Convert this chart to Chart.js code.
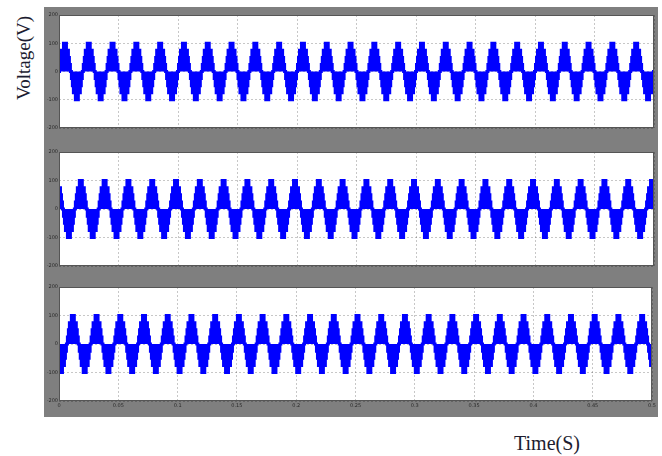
<!DOCTYPE html>
<html>
<head>
<meta charset="utf-8">
<script src="https://cdn.jsdelivr.net/npm/chart.js@4.4.1/dist/chart.umd.min.js"></script>
<style>
  html, body { margin: 0; padding: 0; background: #fff; }
  #wrap { position: relative; width: 662px; height: 456px; overflow: hidden; }
  #frame { position: absolute; left: 44px; top: 7px; width: 614px; height: 410px; background: #7f7f7f; }
  canvas { position: absolute; left: 44px; }
  .ylab {
    position: absolute; left: 24px; top: 58px;
    transform: translate(-50%, -50%) rotate(-90deg);
    font: 19px "Liberation Serif", serif; color: #1c1c30; white-space: nowrap;
  }
  .xlab {
    position: absolute; left: 547px; top: 443px;
    transform: translate(-50%, -50%);
    font: 20px "Liberation Serif", serif; color: #1c1c30; white-space: nowrap;
  }
</style>
</head>
<body>
<div id="wrap">
  <div id="frame"></div>
  <canvas id="c1" width="614" height="130" style="top:7px"></canvas>
  <canvas id="c2" width="614" height="130" style="top:144px"></canvas>
  <canvas id="c3" width="614" height="138" style="top:279px"></canvas>
  <div class="ylab">Voltage(V)</div>
  <div class="xlab">Time(S)</div>
</div>
<script>
// time axis (s)
const timeLabels = ['0', '0.05', '0.1', '0.15', '0.2', '0.25', '0.3', '0.35', '0.4', '0.45', '0.5'];
const tEnd = 0.5;
const cycles = 25;
// voltage axis
const voltTicks = [-200, -100, 0, 100, 200];
// one period of the stepped output (24 samples)
const cycleShape = [0, 25, 50, 75, 75, 100, 100, 100, 75, 75, 50, 25,
                    0, -25, -50, -75, -75, -100, -100, -100, -75, -75, -50, -25];
// where each phase sits in that period at t = 0 (top, middle, bottom)
const phaseStart = [0, 8, 16];

function buildSeries(start) {
  const n = cycleShape.length * cycles;
  const pts = [];
  for (let i = 0; i <= n; i++) {
    pts.push({ x: i * tEnd / n, y: cycleShape[(start + i) % cycleShape.length] });
  }
  return pts;
}

const panelBg = {
  id: 'panelBg',
  beforeDraw(chart) {
    const a = chart.chartArea, ctx = chart.ctx;
    ctx.save();
    ctx.fillStyle = '#fff';
    ctx.fillRect(a.left, a.top, a.right - a.left, a.bottom - a.top);
    ctx.restore();
  },
  afterDraw(chart) {
    const a = chart.chartArea, ctx = chart.ctx;
    ctx.save();
    ctx.strokeStyle = '#555';
    ctx.lineWidth = 1;
    ctx.strokeRect(a.left + 0.5, a.top + 0.5, a.right - a.left - 1, a.bottom - a.top - 1);
    ctx.restore();
  }
};

function makePanel(id, start, xHeight, showX) {
  return new Chart(document.getElementById(id), {
    type: 'line',
    data: {
      datasets: [{
        data: buildSeries(start),
        borderColor: '#0000ff',
        backgroundColor: '#0000ff',
        borderWidth: 3,
        pointRadius: 0,
        stepped: 'middle',
        fill: 'origin'
      }]
    },
    options: {
      responsive: false,
      animation: false,
      devicePixelRatio: 1,
      layout: { padding: { top: 8, right: 4, left: 0, bottom: 0 } },
      plugins: { legend: { display: false }, tooltip: { enabled: false } },
      scales: {
        x: {
          type: 'linear', min: 0, max: tEnd,
          afterFit: s => { s.height = xHeight; },
          afterBuildTicks: s => { s.ticks = timeLabels.map((l, i) => ({ value: i * 0.05 })); },
          ticks: {
            display: showX, autoSkip: false, maxRotation: 0, padding: 2,
            font: { size: 5, family: 'DejaVu Sans' }, color: '#2a2a2a',
            callback: (v, i) => timeLabels[i]
          },
          grid: { color: 'rgba(0,0,0,0.22)', drawTicks: false },
          border: { display: false, dash: [2, 2] }
        },
        y: {
          min: -200, max: 200,
          afterFit: s => { s.width = 15; },
          afterBuildTicks: s => { s.ticks = voltTicks.map(v => ({ value: v })); },
          ticks: {
            padding: 1, font: { size: 5, family: 'DejaVu Sans' }, color: '#2a2a2a',
            callback: v => String(v)
          },
          grid: { color: 'rgba(0,0,0,0.22)', drawTicks: false },
          border: { display: false, dash: [2, 2] }
        }
      }
    },
    plugins: [panelBg]
  });
}

makePanel('c1', phaseStart[0], 9, false);
makePanel('c2', phaseStart[1], 8, false);
makePanel('c3', phaseStart[2], 16, true);
</script>
</body>
</html>
